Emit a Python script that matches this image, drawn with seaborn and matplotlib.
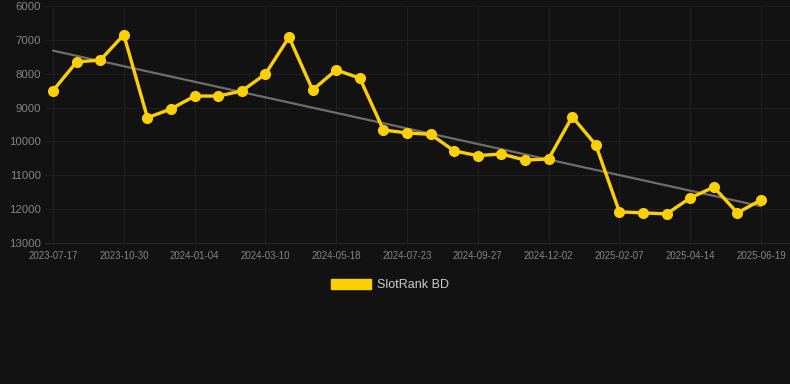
import numpy as np
import pandas as pd
import matplotlib.pyplot as plt
from matplotlib.patches import Patch
import seaborn as sns

# ============================
# 1. Data
# ============================
dates = [
    "2023-07-17", "2023-08-21", "2023-09-25", "2023-10-30", "2023-11-22",
    "2023-12-13", "2024-01-04", "2024-01-26", "2024-02-17", "2024-03-10",
    "2024-04-02", "2024-04-25", "2024-05-18", "2024-06-10", "2024-07-01",
    "2024-07-23", "2024-08-14", "2024-09-05", "2024-09-27", "2024-10-19",
    "2024-11-10", "2024-12-02", "2024-12-24", "2025-01-16", "2025-02-07",
    "2025-03-01", "2025-03-23", "2025-04-14", "2025-05-06", "2025-05-28",
    "2025-06-19",
]
rank = [
    8500, 7650, 7600, 6850, 9300, 9040, 8660, 8660, 8510, 8010,
    6920, 8480, 7890, 8130, 9660, 9750, 9790, 10280, 10420, 10370,
    10550, 10520, 9270, 10100, 12080, 12110, 12140, 11670, 11350, 12110,
    11730,
]
y_ticks = [6000, 7000, 8000, 9000, 10000, 11000, 12000, 13000]
series_name = "SlotRank BD"

df = pd.DataFrame({"idx": np.arange(len(dates)), "date": dates, "rank": rank})

# ============================
# 2. Style
# ============================
bg = "#121212"
yellow = "#FFD000"
sns.set_style("dark")
plt.rcParams["font.family"] = ["Liberation Sans", "DejaVu Sans"]

fig = plt.figure(figsize=(7.9, 3.84), dpi=100, facecolor=bg)
ax = fig.add_axes([45 / 790, 1 - 243 / 384, 1 - 45 / 790, 237 / 384])
ax.set_facecolor(bg)

# ============================
# 3. Plot
# ============================
sns.regplot(data=df, x="idx", y="rank", scatter=False, ci=None, ax=ax,
            line_kws={"color": "#6e6e6e", "linewidth": 1.6, "zorder": 2})
sns.lineplot(data=df, x="idx", y="rank", ax=ax, color=yellow, linewidth=2.4,
             marker="o", markersize=8, markeredgewidth=0, zorder=3)

ax.set_ylim(13000, 6000)
ax.set_xlim(-0.34, len(dates) - 1 + 1.23)
ax.set_yticks(y_ticks)
ax.set_yticklabels([str(v) for v in y_ticks], fontsize=8.2, color="#858585")
ax.set_xticks(df["idx"][::3])
ax.set_xticklabels(df["date"][::3], fontsize=7, color="#858585")
ax.tick_params(axis="y", length=0, pad=3)
ax.tick_params(axis="x", length=4, width=0.8, color="#2a2a2a", pad=2)

ax.grid(True, color="#1f1f1f", linewidth=0.8)
for side in ["top", "right", "left"]:
    ax.spines[side].set_visible(False)
ax.spines["bottom"].set_color("#2a2a2a")
ax.spines["bottom"].set_linewidth(0.8)
ax.set_xlabel("")
ax.set_ylabel("")

fig.legend(handles=[Patch(facecolor=yellow, edgecolor=yellow, label=series_name)],
           loc="center", bbox_to_anchor=(390 / 790, 1 - 285 / 384),
           frameon=False, fontsize=9, labelcolor="#cccccc",
           handlelength=3.2, handleheight=0.9, handletextpad=0.5)

plt.savefig("out.png", dpi=100, facecolor=bg)
